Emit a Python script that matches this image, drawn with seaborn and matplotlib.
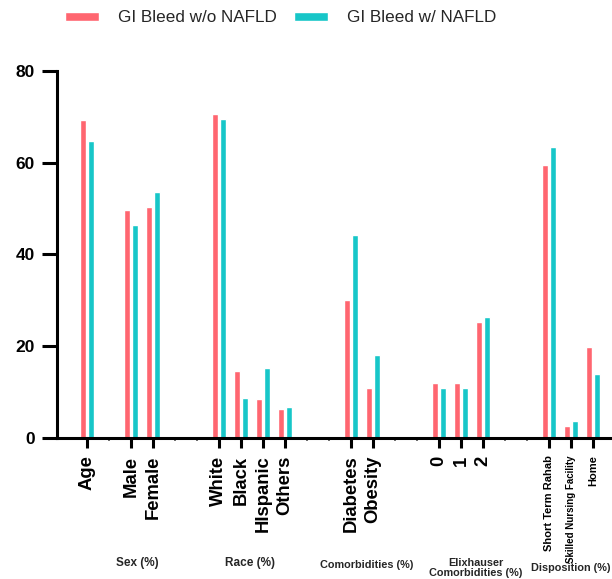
import numpy as np
import pandas as pd
import matplotlib
matplotlib.use("Agg")
import matplotlib.pyplot as plt
import matplotlib.transforms as mtrans
import seaborn as sns

labels = ["Age", "Male", "Female", "White", "Black", "HIspanic", "Others",
          "Diabetes", "Obesity", "0", "1", "2",
          "Short Term Rahab", "Skilled Nursing Facility", "Home"]
without_nafld = [69.2, 49.6, 50.3, 70.6, 14.6, 8.3, 6.2, 30.0, 10.9, 11.8, 11.8, 25.3, 59.5, 2.6, 19.7]
with_nafld = [64.7, 46.4, 53.6, 69.5, 8.6, 15.2, 6.6, 44.2, 18.0, 10.7, 10.7, 26.2, 63.4, 3.5, 13.8]
series_names = ["GI Bleed w/o NAFLD", "GI Bleed w/ NAFLD"]
group_labels = ["Sex (%)", "Race (%)", "Comorbidities (%)", "Elixhauser\nComorbidities (%)", "Disposition (%)"]
y_ticks = [0, 20, 40, 60, 80]

# category order with empty spacer slots between groups
order = ["Age", "_s1", "Male", "Female", "_s2", "_s3", "White", "Black", "HIspanic", "Others",
         "_s4", "_s5", "Diabetes", "Obesity", "_s6", "_s7", "0", "1", "2", "_s8", "_s9",
         "Short Term Rahab", "Skilled Nursing Facility", "Home"]

df = pd.DataFrame({
    "cat": labels * 2,
    "value": without_nafld + with_nafld,
    "series": [series_names[0]] * len(labels) + [series_names[1]] * len(labels),
})

sns.set_style("ticks")
plt.rcParams["font.family"] = ["Liberation Sans", "DejaVu Sans"]

fig = plt.figure(figsize=(6.12, 5.79), dpi=100)
ax = fig.add_axes([57/612, 1 - 437.5/579, 1 - 57/612, (437.5 - 71)/579])

red = "#FF6670"
teal = "#17C6C8"
sns.barplot(data=df, x="cat", y="value", hue="series", order=order,
            hue_order=series_names, palette=[red, teal], width=0.7, gap=0.25,
            saturation=1, ax=ax)

ax.set_ylim(0, 80)
ax.set_xlim(-1.36, 23.86)
ax.set_yticks(y_ticks)
ax.set_yticklabels([str(t) for t in y_ticks], fontsize=12.5, fontweight="bold")
ax.set_xlabel("")
ax.set_ylabel("")

pos = [order.index(l) for l in labels]
ax.set_xticks(pos)
ax.set_xticklabels(labels, rotation=90, fontweight="bold")
sizes = {"Short Term Rahab": 8, "Skilled Nursing Facility": 7, "Home": 8}
for t in ax.get_xticklabels():
    t.set_fontsize(sizes.get(t.get_text(), 13.3))

spacers = [i for i, o in enumerate(order) if o.startswith("_s")]
ax.set_xticks(spacers, minor=True)

sns.despine(ax=ax)
for s in ["left", "bottom"]:
    ax.spines[s].set_linewidth(2.2)
    ax.spines[s].set_color("black")
ax.tick_params(axis="y", length=11, width=2.2, pad=5, colors="black")
ax.tick_params(axis="x", which="major", length=7, width=2.2, pad=6, colors="black")
ax.tick_params(axis="x", which="minor", length=2, width=1.2, color="#555555")

# group labels under the axis
trans = mtrans.blended_transform_factory(ax.transData, fig.transFigure)
group_px = [137, 250, 367, 476, 610]
group_y = [1 - 563/579, 1 - 563/579, 1 - 565/579, 1 - 568/579, 1 - 568/579]
group_fs = [8.5, 8.5, 7.8, 7.8, 7.8]
group_ha = ["center", "center", "center", "center", "right"]
for g, px, gy, fs, ha in zip(group_labels, group_px, group_y, group_fs, group_ha):
    ax.text((px - 87) / 22.0, gy, g, transform=trans, ha=ha, va="center",
            fontsize=fs, fontweight="bold", linespacing=1.1)

sns.move_legend(ax, "center", bbox_to_anchor=(0.458, 1 - 18/579),
                bbox_transform=fig.transFigure, ncol=2, frameon=False, title=None,
                fontsize=12.3, handlelength=2.0, handleheight=0.45,
                handletextpad=1.1, columnspacing=1.0)

fig.savefig("out.png", dpi=100)
